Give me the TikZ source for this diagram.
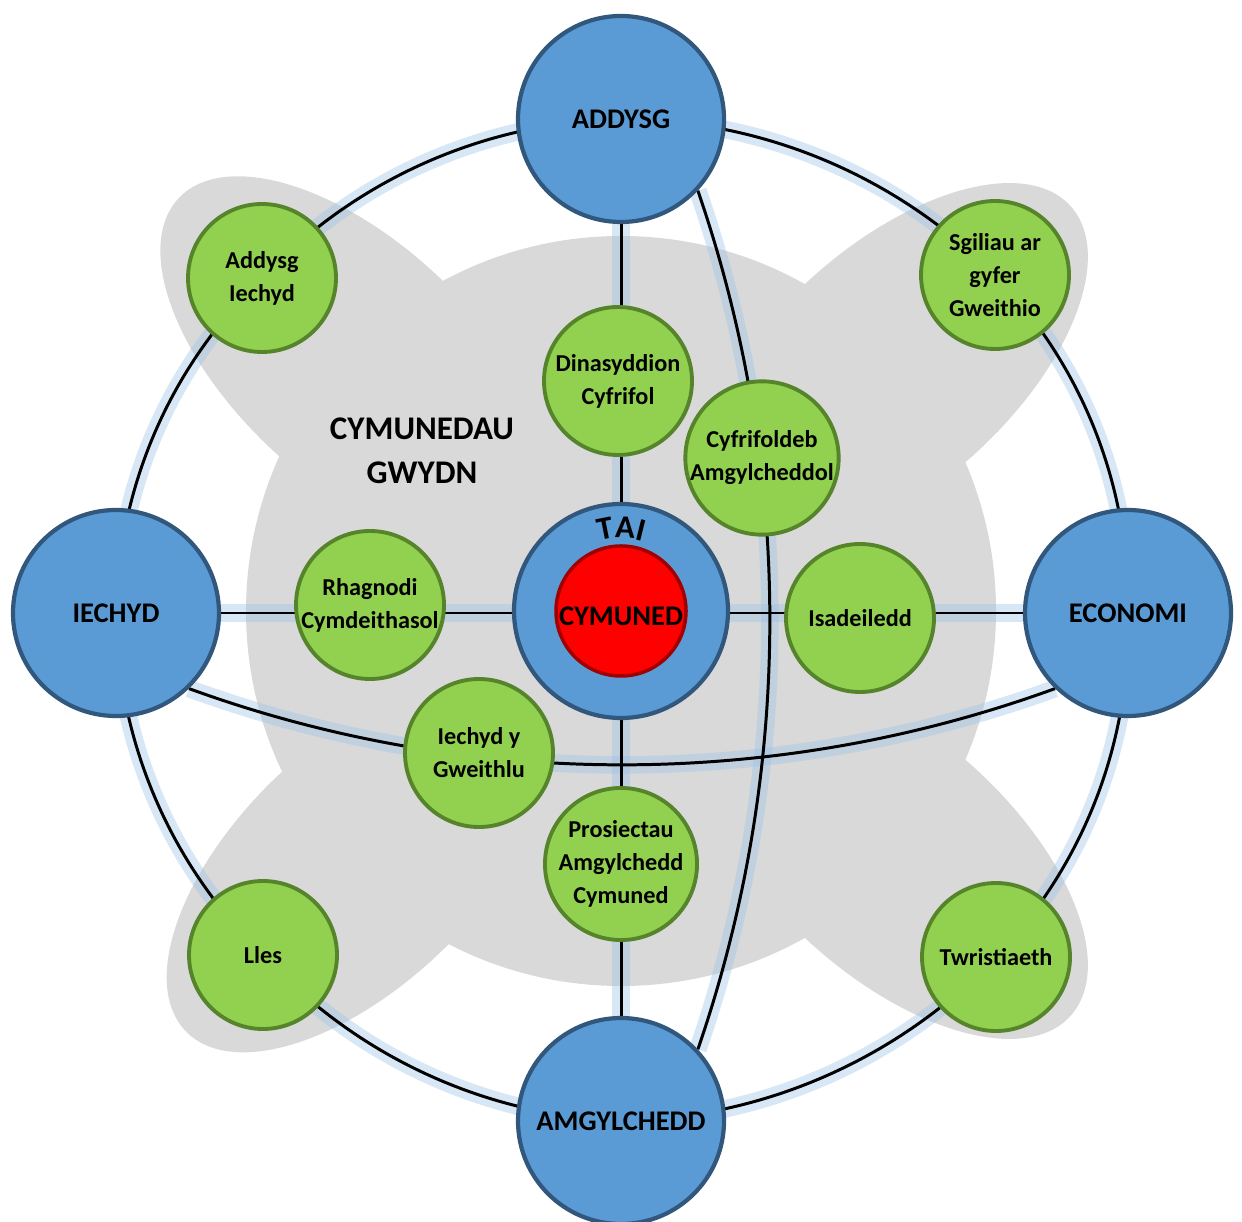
\documentclass[tikz,border=0pt]{standalone}
\usepackage{fontspec}
\setmainfont{Carlito}
\usetikzlibrary{decorations.text}
\definecolor{bluefill}{HTML}{5B9BD5}
\definecolor{blueedge}{HTML}{32577D}
\definecolor{greenfill}{HTML}{92D050}
\definecolor{greenedge}{HTML}{55842A}
\definecolor{redfill}{HTML}{FF0000}
\definecolor{rededge}{HTML}{A00000}
\definecolor{blob}{HTML}{D9D9D9}
\definecolor{halo}{HTML}{9DC3E6}
\pgfdeclarelayer{bg}
\pgfdeclarelayer{wires}
\pgfsetlayers{bg,wires,main}

\begin{document}
\begin{tikzpicture}[
    theme/.style = {circle, draw=blueedge, line width=1.2pt, fill=bluefill, minimum size=20.6mm,
                    inner sep=0pt, font=\fontsize{8.1}{9.7}\selectfont\bfseries},
    leaf/.style  = {circle, draw=greenedge, line width=1.1pt, fill=greenfill, minimum size=14.8mm,
                    inner sep=0pt, align=center, font=\fontsize{6.9}{9.4}\selectfont\bfseries},
    core/.style  = {circle, draw=rededge, line width=1pt, fill=redfill, minimum size=13mm,
                    inner sep=0pt, text height=3mm, font=\fontsize{8.1}{9.7}\selectfont\bfseries},
    glow/.style  = {draw=halo, draw opacity=0.4, line width=5pt},
    link/.style  = {draw=black, line width=0.85pt},
    ring/.style  = {bend left=22.5, looseness=0.89}
  ]
  \useasboundingbox (0,0) rectangle (12.42,12.21);

  \node[theme] (addysg)     at (6.21,11.02) {ADDYSG};
  \node[theme] (iechyd)     at (1.16,6.08)  {IECHYD};
  \node[theme] (economi)    at (11.28,6.08) {ECONOMI};
  \node[theme] (amgylchedd) at (6.21,1.00)  {AMGYLCHEDD};

  \node[theme, minimum size=21.4mm] (hub) at (6.21,6.10) {};
  \node[core] (cymuned) at (hub.center) {CYMUNED};

  \node[leaf] (addIechyd)  at (2.62,9.43)  {Addysg\\Iechyd};
  \node[leaf] (sgiliau)    at (9.95,9.46)  {Sgiliau ar\\gyfer\\Gweithio};
  \node[leaf] (lles)       at (2.63,2.66)  {Lles};
  \node[leaf] (twrist)     at (9.96,2.64)  {Twristiaeth};
  \node[leaf] (dinas)      at (6.18,8.40)  {Dinasyddion\\Cyfrifol};
  \node[leaf] (cyfrif)     at (7.62,7.63)  {Cyfrifoldeb\\Amgylcheddol};
  \node[leaf] (rhagnodi)   at (3.70,6.16)  {Rhagnodi\\Cymdeithasol};
  \node[leaf] (isadeiledd) at (8.60,6.03)  {Isadeiledd};
  \node[leaf] (gweithlu)   at (4.79,4.68)  {Iechyd y\\Gweithlu};
  \node[leaf] (prosiect)   at (6.21,3.57)  {Prosiectau\\Amgylchedd\\Cymuned};

  \node[align=center, font=\fontsize{9.4}{12.5}\selectfont\bfseries] (title) at (4.22,7.70)
       {CYMUNEDAU\\GWYDN};

  \path[decorate, decoration={text along path, text align=center,
        text={|\fontsize{9.2}{9.2}\selectfont\bfseries|TAI}}]
       ([shift={(150:0.73)}]hub.center) arc[start angle=150, end angle=30, radius=0.73];

  \begin{pgfonlayer}{bg}
    \begin{scope}[shift={(hub.center)}]
      \fill[blob] (0,0) circle (3.75);
      \foreach \ang in {42,137,224,318}
        \fill[blob, rotate=\ang] (3.65,0) ellipse[x radius=2.4, y radius=1.2];
    \end{scope}
  \end{pgfonlayer}

  \begin{pgfonlayer}{wires}
    \foreach \sty in {glow, link} {
      \path[\sty] (addysg) -- (amgylchedd);
      \path[\sty] (iechyd) -- (economi);
      \path[\sty] (iechyd.-46) to[bend right=20, looseness=0.88] (economi.-134);
      \path[\sty] (addysg.-43) to[bend left=19, looseness=0.88] (amgylchedd.43);
      \foreach \a/\b in {addysg/sgiliau, sgiliau/economi, economi/twrist, twrist/amgylchedd,
                         amgylchedd/lles, lles/iechyd, iechyd/addIechyd, addIechyd/addysg}
        \path[\sty] (\a.center) to[ring] (\b.center);
    }
  \end{pgfonlayer}
\end{tikzpicture}
\end{document}
